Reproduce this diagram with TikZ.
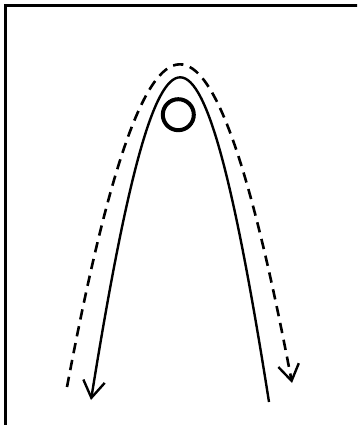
\documentclass[tikz,border=0pt]{standalone}
\usetikzlibrary{arrows.meta}

\begin{document}
\begin{tikzpicture}[
    x=0.25mm, y=-0.25mm,
    marco/.style     = {draw=black, line width=0.75mm},
    pista/.style     = {draw=black, line width=0.6mm,
                        -{Straight Barb[length=4.2mm, width=5.4mm, line width=0.6mm]}},
    recorrido/.style = {draw=black, line width=0.65mm, dash pattern=on 2.6mm off 1.7mm,
                        -{Straight Barb[length=4mm, width=5.2mm, line width=0.6mm]}},
    bola/.style      = {circle, draw=black, line width=1mm, minimum size=7.75mm,
                        inner sep=0pt, fill=white},
]

% --- Marco (cortado a la derecha y abajo) ---
\useasboundingbox (0,0) rectangle (357,425);
\clip (0,0) rectangle (357,425);
\draw[marco] (5.5,5.5) rectangle (390,460);

% --- Extremos ---
\coordinate (pistaIni) at (269,402);
\coordinate (pistaFin) at (91,400);
\coordinate (recIni)   at (67,387);
\coordinate (recFin)   at (292,383);

% --- Curvas ---
\draw[pista] (pistaIni) .. controls (201,-30) and (160,-30) .. (pistaFin);
\draw[recorrido] (recIni) .. controls (148,-42) and (211,-42) .. (recFin);

% --- Bola ---
\node[bola] (bola) at (178.3,114.7) {};

\end{tikzpicture}
\end{document}
